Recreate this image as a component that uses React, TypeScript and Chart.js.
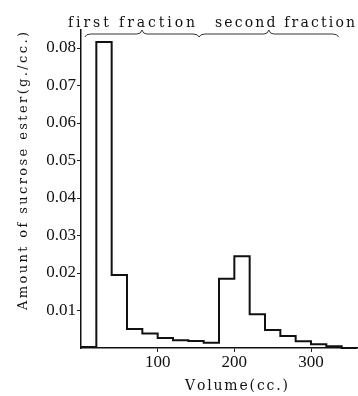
import { useEffect, useRef } from "react";
import { Chart, registerables } from "chart.js";

Chart.register(...registerables);

// Data: step histogram of sucrose ester amount per 20 cc fraction
const binEdges = [0, 20, 40, 60, 80, 100, 120, 140, 160, 180, 200, 220, 240, 260, 280, 300, 320];
const amounts = [0.0003, 0.0816, 0.0195, 0.0051, 0.0039, 0.0027, 0.0021, 0.0019, 0.0014, 0.0185, 0.0245, 0.009, 0.0048, 0.0032, 0.0018, 0.001, 0.0005];
const tailEdges = [340, 360];
const xTickValues = [100, 200, 300];
const yTickValues = [0.01, 0.02, 0.03, 0.04, 0.05, 0.06, 0.07, 0.08];
const fractionLabels = ["first fraction", "second fraction"];
const fractionBounds = [5, 154, 336]; // volumes (cc.) where the braces start/meet/end
const xTitle = "Volume(cc.)";
const yTitle = "Amount of sucrose ester(g./cc.)";

const FONT = '"Liberation Serif", "DejaVu Serif", serif';
const TITLE_FONT = '"DejaVu Serif", "Liberation Serif", serif';

function drawSpaced(ctx: CanvasRenderingContext2D, text: string, x0: number, x1: number, y: number) {
  const chars = Array.from(text);
  const widths = chars.map((c) => ctx.measureText(c).width);
  const total = widths.reduce((a, b) => a + b, 0);
  const gap = chars.length > 1 ? (x1 - x0 - total) / (chars.length - 1) : 0;
  let x = x0;
  chars.forEach((c, i) => {
    ctx.fillText(c, x, y);
    x += widths[i] + gap;
  });
}

function drawBrace(ctx: CanvasRenderingContext2D, a: number, b: number, y: number) {
  const m = (a + b) / 2;
  ctx.beginPath();
  ctx.moveTo(a, y + 3);
  ctx.quadraticCurveTo(a + 1, y, a + 6, y);
  ctx.lineTo(m - 5, y);
  ctx.quadraticCurveTo(m - 1, y, m, y - 4);
  ctx.quadraticCurveTo(m + 1, y, m + 5, y);
  ctx.lineTo(b - 6, y);
  ctx.quadraticCurveTo(b - 1, y, b, y + 3);
  ctx.stroke();
}

const annotations = {
  id: "annotations",
  afterDraw(chart: any) {
    const ctx: CanvasRenderingContext2D = chart.ctx;
    const xs = chart.scales.x;
    ctx.save();
    ctx.fillStyle = "#111";
    ctx.textBaseline = "alphabetic";
    ctx.textAlign = "left";

    // Fraction labels
    ctx.font = `14px ${TITLE_FONT}`;
    drawSpaced(ctx, fractionLabels[0], 68, 195, 27);
    drawSpaced(ctx, fractionLabels[1], 215, 355, 27);

    // Braces
    ctx.strokeStyle = "#333";
    ctx.lineWidth = 1;
    const p = fractionBounds.map((v) => xs.getPixelForValue(v));
    drawBrace(ctx, p[0], p[1], 34);
    drawBrace(ctx, p[1], p[2], 34);

    // X title
    ctx.font = `14px ${TITLE_FONT}`;
    drawSpaced(ctx, xTitle, 185, 288, 390);

    // Y title (rotated)
    ctx.save();
    ctx.translate(27, 310);
    ctx.rotate(-Math.PI / 2);
    ctx.font = `13px ${TITLE_FONT}`;
    drawSpaced(ctx, yTitle, 0, 278, 0);
    ctx.restore();

    ctx.restore();
  },
};

export default function App() {
  const ref = useRef<HTMLCanvasElement | null>(null);

  useEffect(() => {
    if (!ref.current) return;
    const points = binEdges.map((x, i) => ({ x, y: amounts[i] }));
    tailEdges.forEach((x) => points.push({ x, y: 0 }));

    const chart = new Chart(ref.current, {
      type: "line",
      data: {
        datasets: [
          {
            data: points,
            stepped: "before",
            borderColor: "#111",
            borderWidth: 2,
            pointRadius: 0,
            fill: false,
            clip: false as any,
          },
        ],
      },
      options: {
        animation: false,
        responsive: false,
        devicePixelRatio: 1,
        layout: { padding: { top: 30, right: 1, left: 0, bottom: 0 } },
        plugins: { legend: { display: false }, tooltip: { enabled: false } },
        scales: {
          x: {
            type: "linear",
            min: 0,
            max: 360,
            afterFit: (s: any) => {
              s.height = 48;
            },
            afterBuildTicks: (s: any) => {
              s.ticks = xTickValues.map((v) => ({ value: v }));
            },
            grid: { display: true, drawOnChartArea: false, drawTicks: true, tickLength: 4, color: "#222", lineWidth: 1 },
            border: { display: true, color: "#111", width: 1.5 },
            ticks: {
              color: "#111",
              font: { family: FONT, size: 17 },
              padding: 0,
              maxRotation: 0,
              autoSkip: false,
              callback: (v: any) => String(v),
            },
          },
          y: {
            type: "linear",
            min: 0,
            max: 0.0848,
            afterFit: (s: any) => {
              s.width = 81;
            },
            afterBuildTicks: (s: any) => {
              s.ticks = yTickValues.map((v) => ({ value: v }));
            },
            grid: { display: true, drawOnChartArea: false, drawTicks: true, tickLength: 4, color: "#222", lineWidth: 1 },
            border: { display: true, color: "#111", width: 1.5 },
            ticks: {
              color: "#111",
              font: { family: FONT, size: 17 },
              padding: 1,
              autoSkip: false,
              callback: (v: any) => Number(v).toFixed(2),
            },
          },
        },
      },
      plugins: [annotations],
    });
    return () => chart.destroy();
  }, []);

  return (
    <div style={{ position: "fixed", left: 0, top: 0, width: 358, height: 396, background: "#fff" }}>
      <canvas ref={ref} width={358} height={396} />
    </div>
  );
}
